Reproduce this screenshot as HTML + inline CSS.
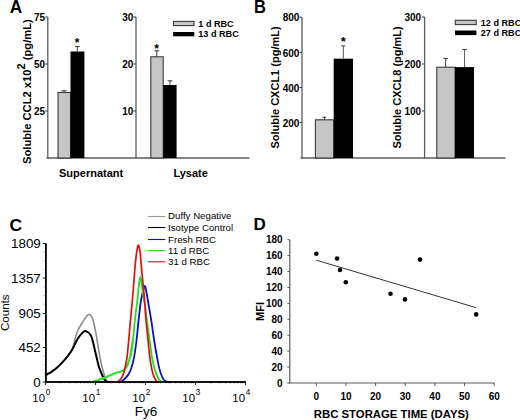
<!DOCTYPE html>
<html><head><meta charset="utf-8"><style>
html,body{margin:0;padding:0;background:#fff;}
svg{display:block;}
</style></head><body>
<svg width="520" height="420" viewBox="0 0 520 420" style="font-family:'Liberation Sans',sans-serif">
<rect width="520" height="420" fill="#fff"/>
<text transform="translate(9.8,12.6) scale(1,1.06)" font-family="Liberation Sans, sans-serif" font-weight="bold" font-size="17.2">A</text>
<line x1="47.8" y1="17" x2="47.8" y2="158.5" stroke="#5c5c5c" stroke-width="1.3"/>
<line x1="45.3" y1="17" x2="47.8" y2="17" stroke="#444" stroke-width="1.1"/>
<text x="45.2" y="21.2" font-family="Liberation Sans, sans-serif" font-weight="bold" font-size="10" text-anchor="end" fill="#000" >75</text>
<line x1="45.3" y1="64" x2="47.8" y2="64" stroke="#444" stroke-width="1.1"/>
<text x="45.2" y="68.2" font-family="Liberation Sans, sans-serif" font-weight="bold" font-size="10" text-anchor="end" fill="#000" >50</text>
<line x1="45.3" y1="111" x2="47.8" y2="111" stroke="#444" stroke-width="1.1"/>
<text x="45.2" y="115.2" font-family="Liberation Sans, sans-serif" font-weight="bold" font-size="10" text-anchor="end" fill="#000" >25</text>
<line x1="46.5" y1="158" x2="249.5" y2="158" stroke="#5c5c5c" stroke-width="1.4"/>
<rect x="58" y="92.5" width="12.5" height="65.5" fill="#c6c6c6" stroke="#3a3a3a" stroke-width="1.1"/>
<rect x="70.5" y="51.5" width="13.900000000000006" height="106.5" fill="#000"/>
<line x1="64" y1="92.5" x2="64" y2="90.8" stroke="#3a3a3a" stroke-width="0.9"/>
<line x1="61.5" y1="90.8" x2="66.7" y2="90.8" stroke="#3a3a3a" stroke-width="1"/>
<line x1="77.3" y1="51.5" x2="77.3" y2="46.5" stroke="#444" stroke-width="1"/>
<line x1="75" y1="46.5" x2="79.6" y2="46.5" stroke="#444" stroke-width="1.1"/>
<text x="77.2" y="47.0" font-family="Liberation Sans, sans-serif" font-weight="bold" font-size="12" text-anchor="middle" fill="#000" >*</text>
<text x="59" y="176.5" font-family="Liberation Sans, sans-serif" font-weight="bold" font-size="11" text-anchor="start" fill="#000" >Supernatant</text>
<text transform="translate(30.5,164.0) rotate(-90)" font-family="Liberation Sans, sans-serif" font-weight="bold" font-size="11.2">Soluble CCL2 x10<tspan font-size="11" dy="-5.6">2</tspan><tspan dy="5.6"> (pg/mL)</tspan></text>
<line x1="136" y1="17" x2="136" y2="158.5" stroke="#5c5c5c" stroke-width="1.3"/>
<line x1="133.5" y1="17" x2="136" y2="17" stroke="#444" stroke-width="1.1"/>
<text x="133.4" y="21.2" font-family="Liberation Sans, sans-serif" font-weight="bold" font-size="10" text-anchor="end" fill="#000" >30</text>
<line x1="133.5" y1="64" x2="136" y2="64" stroke="#444" stroke-width="1.1"/>
<text x="133.4" y="68.2" font-family="Liberation Sans, sans-serif" font-weight="bold" font-size="10" text-anchor="end" fill="#000" >20</text>
<line x1="133.5" y1="111" x2="136" y2="111" stroke="#444" stroke-width="1.1"/>
<text x="133.4" y="115.2" font-family="Liberation Sans, sans-serif" font-weight="bold" font-size="10" text-anchor="end" fill="#000" >10</text>
<rect x="150.8" y="56.8" width="12.399999999999977" height="101.2" fill="#c6c6c6" stroke="#3a3a3a" stroke-width="1.1"/>
<rect x="163.2" y="85" width="13.400000000000006" height="73" fill="#000"/>
<line x1="156.8" y1="56.8" x2="156.8" y2="50.8" stroke="#3a3a3a" stroke-width="1"/>
<line x1="154.6" y1="50.8" x2="159" y2="50.8" stroke="#3a3a3a" stroke-width="1.1"/>
<line x1="170" y1="85" x2="170" y2="80.8" stroke="#444" stroke-width="1"/>
<line x1="167.7" y1="80.8" x2="172.3" y2="80.8" stroke="#444" stroke-width="1.1"/>
<text x="156.7" y="52.8" font-family="Liberation Sans, sans-serif" font-weight="bold" font-size="12" text-anchor="middle" fill="#000" >*</text>
<text x="173.4" y="177" font-family="Liberation Sans, sans-serif" font-weight="bold" font-size="11" text-anchor="start" fill="#000" >Lysate</text>
<rect x="173.5" y="21.4" width="20.5" height="4.200000000000003" fill="#c6c6c6" stroke="#3a3a3a" stroke-width="1.1"/>
<rect x="173.1" y="32" width="21.200000000000017" height="4.299999999999997" fill="#000"/>
<text x="198.3" y="27.2" font-family="Liberation Sans, sans-serif" font-weight="bold" font-size="9.1" text-anchor="start" fill="#000" >1 d RBC</text>
<text x="198.3" y="37.3" font-family="Liberation Sans, sans-serif" font-weight="bold" font-size="9.1" text-anchor="start" fill="#000" >13 d RBC</text>
<text transform="translate(254.1,12.6) scale(0.96,1.05)" font-family="Liberation Sans, sans-serif" font-weight="bold" font-size="17.2">B</text>
<line x1="302" y1="17.2" x2="302" y2="158.5" stroke="#5c5c5c" stroke-width="1.3"/>
<line x1="299.5" y1="17.2" x2="302" y2="17.2" stroke="#444" stroke-width="1.1"/>
<text x="299.4" y="21.4" font-family="Liberation Sans, sans-serif" font-weight="bold" font-size="10" text-anchor="end" fill="#000" >800</text>
<line x1="299.5" y1="52.4" x2="302" y2="52.4" stroke="#444" stroke-width="1.1"/>
<text x="299.4" y="56.6" font-family="Liberation Sans, sans-serif" font-weight="bold" font-size="10" text-anchor="end" fill="#000" >600</text>
<line x1="299.5" y1="87.5" x2="302" y2="87.5" stroke="#444" stroke-width="1.1"/>
<text x="299.4" y="91.7" font-family="Liberation Sans, sans-serif" font-weight="bold" font-size="10" text-anchor="end" fill="#000" >400</text>
<line x1="299.5" y1="122.5" x2="302" y2="122.5" stroke="#444" stroke-width="1.1"/>
<text x="299.4" y="126.7" font-family="Liberation Sans, sans-serif" font-weight="bold" font-size="10" text-anchor="end" fill="#000" >200</text>
<line x1="300.5" y1="158" x2="505.6" y2="158" stroke="#5c5c5c" stroke-width="1.4"/>
<rect x="315.4" y="119.8" width="18.30000000000001" height="38.2" fill="#c6c6c6" stroke="#3a3a3a" stroke-width="1.1"/>
<rect x="333.7" y="58.7" width="19.30000000000001" height="99.3" fill="#000"/>
<line x1="324.4" y1="119.8" x2="324.4" y2="117.2" stroke="#3a3a3a" stroke-width="1"/>
<line x1="322.5" y1="117.2" x2="326.3" y2="117.2" stroke="#3a3a3a" stroke-width="1.1"/>
<line x1="343.3" y1="58.7" x2="343.3" y2="45.9" stroke="#555" stroke-width="1"/>
<line x1="341.3" y1="45.9" x2="345.3" y2="45.9" stroke="#444" stroke-width="1.1"/>
<text x="343.4" y="46.3" font-family="Liberation Sans, sans-serif" font-weight="bold" font-size="13" text-anchor="middle" fill="#000" >*</text>
<text transform="translate(279.2,148.6) rotate(-90)" font-family="Liberation Sans, sans-serif" font-weight="bold" font-size="11">Soluble CXCL1 (pg/mL)</text>
<line x1="424.6" y1="17" x2="424.6" y2="158.5" stroke="#5c5c5c" stroke-width="1.3"/>
<line x1="422.1" y1="17" x2="424.6" y2="17" stroke="#444" stroke-width="1.1"/>
<text x="421.2" y="21.2" font-family="Liberation Sans, sans-serif" font-weight="bold" font-size="10" text-anchor="end" fill="#000" >300</text>
<line x1="422.1" y1="64" x2="424.6" y2="64" stroke="#444" stroke-width="1.1"/>
<text x="421.2" y="68.2" font-family="Liberation Sans, sans-serif" font-weight="bold" font-size="10" text-anchor="end" fill="#000" >200</text>
<line x1="422.1" y1="111" x2="424.6" y2="111" stroke="#444" stroke-width="1.1"/>
<text x="421.2" y="115.2" font-family="Liberation Sans, sans-serif" font-weight="bold" font-size="10" text-anchor="end" fill="#000" >100</text>
<rect x="436.8" y="67.2" width="18.19999999999999" height="90.8" fill="#c6c6c6" stroke="#3a3a3a" stroke-width="1.1"/>
<rect x="455" y="67.1" width="19" height="90.9" fill="#000"/>
<line x1="445.7" y1="67.2" x2="445.7" y2="58.5" stroke="#3a3a3a" stroke-width="1"/>
<line x1="443.5" y1="58.5" x2="447.8" y2="58.5" stroke="#3a3a3a" stroke-width="1.1"/>
<line x1="464.6" y1="67.1" x2="464.6" y2="49.5" stroke="#555" stroke-width="1"/>
<line x1="462.1" y1="49.5" x2="466.9" y2="49.5" stroke="#444" stroke-width="1.1"/>
<text transform="translate(400.6,148.5) rotate(-90)" font-family="Liberation Sans, sans-serif" font-weight="bold" font-size="11">Soluble CXCL8 (pg/mL)</text>
<rect x="455.3" y="20.3" width="20.899999999999977" height="4.300000000000001" fill="#c6c6c6" stroke="#3a3a3a" stroke-width="1.1"/>
<rect x="455" y="30.5" width="21.399999999999977" height="4.600000000000001" fill="#000"/>
<text x="480.8" y="26.2" font-family="Liberation Sans, sans-serif" font-weight="bold" font-size="9.1" text-anchor="start" fill="#000" >12 d RBC</text>
<text x="480.8" y="36.2" font-family="Liberation Sans, sans-serif" font-weight="bold" font-size="9.1" text-anchor="start" fill="#000" >27 d RBC</text>
<text x="9.4" y="230.6" font-family="Liberation Sans, sans-serif" font-weight="bold" font-size="17.4" text-anchor="start" fill="#000" >C</text>
<line x1="45.8" y1="243.5" x2="45.8" y2="382.8" stroke="#000" stroke-width="1.5"/>
<line x1="45" y1="382" x2="245.8" y2="382" stroke="#000" stroke-width="1.5"/>
<line x1="42.8" y1="243.5" x2="45.8" y2="243.5" stroke="#000" stroke-width="0.9"/>
<text x="40.8" y="248.4" font-family="Liberation Sans, sans-serif" font-size="13.4" text-anchor="end" fill="#000" >1809</text>
<line x1="42.8" y1="278" x2="45.8" y2="278" stroke="#000" stroke-width="0.9"/>
<text x="40.8" y="282.9" font-family="Liberation Sans, sans-serif" font-size="13.4" text-anchor="end" fill="#000" >1357</text>
<line x1="42.8" y1="313.5" x2="45.8" y2="313.5" stroke="#000" stroke-width="0.9"/>
<text x="40.8" y="318.4" font-family="Liberation Sans, sans-serif" font-size="13.4" text-anchor="end" fill="#000" >905</text>
<line x1="42.8" y1="347.5" x2="45.8" y2="347.5" stroke="#000" stroke-width="0.9"/>
<text x="40.8" y="352.4" font-family="Liberation Sans, sans-serif" font-size="13.4" text-anchor="end" fill="#000" >452</text>
<line x1="42.8" y1="382" x2="45.8" y2="382" stroke="#000" stroke-width="0.9"/>
<text x="40.8" y="386.9" font-family="Liberation Sans, sans-serif" font-size="13.4" text-anchor="end" fill="#000" >0</text>
<line x1="43.6" y1="373.34375" x2="45.8" y2="373.34375" stroke="#b0b0b0" stroke-width="0.8"/>
<line x1="43.6" y1="364.6875" x2="45.8" y2="364.6875" stroke="#b0b0b0" stroke-width="0.8"/>
<line x1="43.6" y1="356.03125" x2="45.8" y2="356.03125" stroke="#b0b0b0" stroke-width="0.8"/>
<line x1="43.6" y1="338.71875" x2="45.8" y2="338.71875" stroke="#b0b0b0" stroke-width="0.8"/>
<line x1="43.6" y1="330.0625" x2="45.8" y2="330.0625" stroke="#b0b0b0" stroke-width="0.8"/>
<line x1="43.6" y1="321.40625" x2="45.8" y2="321.40625" stroke="#b0b0b0" stroke-width="0.8"/>
<line x1="43.6" y1="304.09375" x2="45.8" y2="304.09375" stroke="#b0b0b0" stroke-width="0.8"/>
<line x1="43.6" y1="295.4375" x2="45.8" y2="295.4375" stroke="#b0b0b0" stroke-width="0.8"/>
<line x1="43.6" y1="286.78125" x2="45.8" y2="286.78125" stroke="#b0b0b0" stroke-width="0.8"/>
<line x1="43.6" y1="269.46875" x2="45.8" y2="269.46875" stroke="#b0b0b0" stroke-width="0.8"/>
<line x1="43.6" y1="260.8125" x2="45.8" y2="260.8125" stroke="#b0b0b0" stroke-width="0.8"/>
<line x1="43.6" y1="252.15625" x2="45.8" y2="252.15625" stroke="#b0b0b0" stroke-width="0.8"/>
<line x1="45.6" y1="382" x2="45.6" y2="385" stroke="#000" stroke-width="0.9"/>
<text x="45.0" y="401.6" font-family="Liberation Sans, sans-serif" font-size="11.4" text-anchor="end" fill="#000" >10</text>
<text x="45.800000000000004" y="395" font-family="Liberation Sans, sans-serif" font-size="8.2" text-anchor="start" fill="#000" >0</text>
<line x1="60.65149978319906" y1="382" x2="60.65149978319906" y2="384" stroke="#888" stroke-width="0.5"/>
<line x1="69.45606273598312" y1="382" x2="69.45606273598312" y2="384" stroke="#888" stroke-width="0.5"/>
<line x1="75.70299956639812" y1="382" x2="75.70299956639812" y2="384" stroke="#888" stroke-width="0.5"/>
<line x1="80.54850021680095" y1="382" x2="80.54850021680095" y2="384" stroke="#888" stroke-width="0.5"/>
<line x1="84.50756251918219" y1="382" x2="84.50756251918219" y2="384" stroke="#888" stroke-width="0.5"/>
<line x1="87.85490200071284" y1="382" x2="87.85490200071284" y2="384" stroke="#888" stroke-width="0.5"/>
<line x1="90.75449934959718" y1="382" x2="90.75449934959718" y2="384" stroke="#888" stroke-width="0.5"/>
<line x1="93.31212547196625" y1="382" x2="93.31212547196625" y2="384" stroke="#888" stroke-width="0.5"/>
<line x1="95.6" y1="382" x2="95.6" y2="385" stroke="#000" stroke-width="0.9"/>
<text x="95.0" y="401.6" font-family="Liberation Sans, sans-serif" font-size="11.4" text-anchor="end" fill="#000" >10</text>
<text x="95.8" y="395" font-family="Liberation Sans, sans-serif" font-size="8.2" text-anchor="start" fill="#000" >1</text>
<line x1="110.65149978319906" y1="382" x2="110.65149978319906" y2="384" stroke="#888" stroke-width="0.5"/>
<line x1="119.45606273598312" y1="382" x2="119.45606273598312" y2="384" stroke="#888" stroke-width="0.5"/>
<line x1="125.70299956639812" y1="382" x2="125.70299956639812" y2="384" stroke="#888" stroke-width="0.5"/>
<line x1="130.54850021680093" y1="382" x2="130.54850021680093" y2="384" stroke="#888" stroke-width="0.5"/>
<line x1="134.5075625191822" y1="382" x2="134.5075625191822" y2="384" stroke="#888" stroke-width="0.5"/>
<line x1="137.85490200071285" y1="382" x2="137.85490200071285" y2="384" stroke="#888" stroke-width="0.5"/>
<line x1="140.75449934959718" y1="382" x2="140.75449934959718" y2="384" stroke="#888" stroke-width="0.5"/>
<line x1="143.31212547196623" y1="382" x2="143.31212547196623" y2="384" stroke="#888" stroke-width="0.5"/>
<line x1="145.6" y1="382" x2="145.6" y2="385" stroke="#000" stroke-width="0.9"/>
<text x="145.0" y="401.6" font-family="Liberation Sans, sans-serif" font-size="11.4" text-anchor="end" fill="#000" >10</text>
<text x="145.79999999999998" y="395" font-family="Liberation Sans, sans-serif" font-size="8.2" text-anchor="start" fill="#000" >2</text>
<line x1="160.65149978319906" y1="382" x2="160.65149978319906" y2="384" stroke="#888" stroke-width="0.5"/>
<line x1="169.45606273598312" y1="382" x2="169.45606273598312" y2="384" stroke="#888" stroke-width="0.5"/>
<line x1="175.70299956639812" y1="382" x2="175.70299956639812" y2="384" stroke="#888" stroke-width="0.5"/>
<line x1="180.54850021680093" y1="382" x2="180.54850021680093" y2="384" stroke="#888" stroke-width="0.5"/>
<line x1="184.5075625191822" y1="382" x2="184.5075625191822" y2="384" stroke="#888" stroke-width="0.5"/>
<line x1="187.85490200071283" y1="382" x2="187.85490200071283" y2="384" stroke="#888" stroke-width="0.5"/>
<line x1="190.75449934959718" y1="382" x2="190.75449934959718" y2="384" stroke="#888" stroke-width="0.5"/>
<line x1="193.31212547196623" y1="382" x2="193.31212547196623" y2="384" stroke="#888" stroke-width="0.5"/>
<line x1="195.6" y1="382" x2="195.6" y2="385" stroke="#000" stroke-width="0.9"/>
<text x="195.0" y="401.6" font-family="Liberation Sans, sans-serif" font-size="11.4" text-anchor="end" fill="#000" >10</text>
<text x="195.79999999999998" y="395" font-family="Liberation Sans, sans-serif" font-size="8.2" text-anchor="start" fill="#000" >3</text>
<line x1="210.65149978319906" y1="382" x2="210.65149978319906" y2="384" stroke="#888" stroke-width="0.5"/>
<line x1="219.45606273598312" y1="382" x2="219.45606273598312" y2="384" stroke="#888" stroke-width="0.5"/>
<line x1="225.70299956639812" y1="382" x2="225.70299956639812" y2="384" stroke="#888" stroke-width="0.5"/>
<line x1="230.54850021680093" y1="382" x2="230.54850021680093" y2="384" stroke="#888" stroke-width="0.5"/>
<line x1="234.5075625191822" y1="382" x2="234.5075625191822" y2="384" stroke="#888" stroke-width="0.5"/>
<line x1="237.85490200071283" y1="382" x2="237.85490200071283" y2="384" stroke="#888" stroke-width="0.5"/>
<line x1="240.75449934959718" y1="382" x2="240.75449934959718" y2="384" stroke="#888" stroke-width="0.5"/>
<line x1="243.31212547196623" y1="382" x2="243.31212547196623" y2="384" stroke="#888" stroke-width="0.5"/>
<line x1="245.6" y1="382" x2="245.6" y2="385" stroke="#000" stroke-width="0.9"/>
<text x="245.0" y="401.6" font-family="Liberation Sans, sans-serif" font-size="11.4" text-anchor="end" fill="#000" >10</text>
<text x="245.79999999999998" y="395" font-family="Liberation Sans, sans-serif" font-size="8.2" text-anchor="start" fill="#000" >4</text>
<text transform="translate(134.8,415.8) scale(1.1,1)" font-family="Liberation Sans, sans-serif" font-size="12.3">Fy6</text>
<text transform="translate(9.3,331.1) rotate(-90)" font-family="Liberation Sans, sans-serif" font-size="11.6">Counts</text>
<path d="M70.50,352.40 C70.92,351.53 72.15,349.77 73.00,347.20 C73.85,344.63 74.75,339.87 75.60,337.00 C76.45,334.13 76.88,332.55 78.10,330.00 C79.32,327.45 81.42,324.08 82.90,321.70 C84.38,319.32 85.92,316.93 87.00,315.70 C88.08,314.47 88.53,313.98 89.40,314.30 C90.27,314.62 91.43,315.98 92.20,317.60 C92.97,319.22 93.37,321.33 94.00,324.00 C94.63,326.67 95.35,330.10 96.00,333.60 C96.65,337.10 97.27,341.20 97.90,345.00 C98.53,348.80 99.20,353.07 99.80,356.40 C100.40,359.73 100.87,362.32 101.50,365.00 C102.13,367.68 102.93,370.25 103.60,372.50 C104.27,374.75 104.83,377.00 105.50,378.50 C106.17,380.00 106.68,380.92 107.60,381.50 C108.52,382.08 110.43,381.92 111.00,382.00" fill="none" stroke="#8c8c8c" stroke-width="1.6" stroke-linejoin="round" stroke-linecap="round" />
<path d="M45.80,375.00 C46.68,374.52 49.25,373.30 51.10,372.10 C52.95,370.90 54.98,369.47 56.90,367.80 C58.82,366.13 60.93,363.88 62.60,362.10 C64.27,360.32 65.48,358.88 66.90,357.10 C68.32,355.32 69.88,353.30 71.10,351.40 C72.32,349.50 73.23,347.57 74.20,345.70 C75.17,343.83 75.85,342.02 76.90,340.20 C77.95,338.38 79.22,336.30 80.50,334.80 C81.78,333.30 83.52,331.70 84.60,331.20 C85.68,330.70 86.20,331.45 87.00,331.80 C87.80,332.15 88.65,332.45 89.40,333.30 C90.15,334.15 90.85,335.25 91.50,336.90 C92.15,338.55 92.72,340.90 93.30,343.20 C93.88,345.50 94.40,348.15 95.00,350.70 C95.60,353.25 96.27,355.87 96.90,358.50 C97.53,361.13 98.13,364.25 98.80,366.50 C99.47,368.75 100.07,370.00 100.90,372.00 C101.73,374.00 102.87,376.92 103.80,378.50 C104.73,380.08 105.47,380.92 106.50,381.50 C107.53,382.08 109.42,381.92 110.00,382.00" fill="none" stroke="#000" stroke-width="2.0" stroke-linejoin="round" stroke-linecap="round" />
<path d="M119.00,382.00 C119.50,381.83 120.70,381.90 122.00,381.00 C123.30,380.10 125.35,378.43 126.80,376.60 C128.25,374.77 129.52,373.07 130.70,370.00 C131.88,366.93 132.93,363.12 133.90,358.20 C134.87,353.28 135.72,346.83 136.50,340.50 C137.28,334.17 137.92,326.45 138.60,320.20 C139.28,313.95 139.95,307.48 140.60,303.00 C141.25,298.52 141.82,296.17 142.50,293.30 C143.18,290.43 144.03,285.93 144.70,285.80 C145.37,285.67 145.95,289.97 146.50,292.50 C147.05,295.03 147.22,296.38 148.00,301.00 C148.78,305.62 150.17,313.62 151.20,320.20 C152.23,326.78 153.18,334.08 154.20,340.50 C155.22,346.92 156.33,353.63 157.30,358.70 C158.27,363.77 158.88,367.35 160.00,370.90 C161.12,374.45 162.50,378.15 164.00,380.00 C165.50,381.85 168.17,381.67 169.00,382.00" fill="none" stroke="#1010c0" stroke-width="1.8" stroke-linejoin="round" stroke-linecap="round" />
<path d="M92.00,382.00 C92.53,381.83 93.37,381.60 95.20,381.00 C97.03,380.40 100.70,379.27 103.00,378.40 C105.30,377.53 106.98,376.67 109.00,375.80 C111.02,374.93 113.08,373.93 115.10,373.20 C117.12,372.47 119.52,372.05 121.10,371.40 C122.68,370.75 123.48,370.45 124.60,369.30 C125.72,368.15 126.80,366.88 127.80,364.50 C128.80,362.12 129.75,359.00 130.60,355.00 C131.45,351.00 132.52,342.92 132.90,340.50" fill="none" stroke="#30e030" stroke-width="2.2" stroke-linejoin="round" stroke-linecap="round" />
<path d="M130.60,355.00 C130.98,352.58 132.18,346.33 132.90,340.50 C133.62,334.67 134.25,325.92 134.90,320.00 C135.55,314.08 136.30,309.17 136.80,305.00 C137.30,300.83 137.55,298.33 137.90,295.00 C138.25,291.67 138.50,288.00 138.90,285.00 C139.30,282.00 139.80,277.00 140.30,277.00 C140.80,277.00 141.35,281.45 141.90,285.00 C142.45,288.55 143.08,294.97 143.60,298.30 C144.12,301.63 144.45,301.35 145.00,305.00 C145.55,308.65 146.13,314.28 146.90,320.20 C147.67,326.12 148.72,334.08 149.60,340.50 C150.48,346.92 151.27,353.63 152.20,358.70 C153.13,363.77 154.00,367.35 155.20,370.90 C156.40,374.45 157.93,378.15 159.40,380.00 C160.87,381.85 163.23,381.67 164.00,382.00" fill="none" stroke="#20e020" stroke-width="1.8" stroke-linejoin="round" stroke-linecap="round" />
<path d="M112.00,382.00 C113.02,381.92 116.42,382.35 118.10,381.50 C119.78,380.65 120.97,379.02 122.10,376.90 C123.23,374.78 124.07,372.17 124.90,368.80 C125.73,365.43 126.47,361.42 127.10,356.70 C127.73,351.98 128.13,346.58 128.70,340.50 C129.27,334.42 129.88,326.95 130.50,320.20 C131.12,313.45 131.83,306.42 132.40,300.00 C132.97,293.58 133.43,287.53 133.90,281.70 C134.37,275.87 134.77,269.70 135.20,265.00 C135.63,260.30 136.12,256.42 136.50,253.50 C136.88,250.58 137.22,248.92 137.50,247.50 C137.78,246.08 137.93,245.08 138.20,245.00 C138.47,244.92 138.77,245.67 139.10,247.00 C139.43,248.33 139.85,250.00 140.20,253.00 C140.55,256.00 140.77,260.22 141.20,265.00 C141.63,269.78 142.27,276.20 142.80,281.70 C143.33,287.20 143.87,291.58 144.40,298.00 C144.93,304.42 145.38,313.12 146.00,320.20 C146.62,327.28 147.43,334.08 148.10,340.50 C148.77,346.92 149.23,353.30 150.00,358.70 C150.77,364.10 151.62,369.18 152.70,372.90 C153.78,376.62 155.12,379.48 156.50,381.00 C157.88,382.52 160.25,381.83 161.00,382.00" fill="none" stroke="#e01010" stroke-width="1.7" stroke-linejoin="round" stroke-linecap="round" />
<line x1="45.8" y1="243.5" x2="45.8" y2="382.8" stroke="#000" stroke-width="1.5"/>
<line x1="45" y1="382" x2="245.8" y2="382" stroke="#000" stroke-width="1.5"/>
<line x1="148" y1="216.5" x2="165.3" y2="216.5" stroke="#9a9a9a" stroke-width="1.1"/>
<text x="168" y="219.4" font-family="Liberation Sans, sans-serif" font-size="9.7" text-anchor="start" fill="#000" >Duffy Negative</text>
<line x1="148" y1="227.5" x2="165.3" y2="227.5" stroke="#000" stroke-width="1.1"/>
<text x="168" y="231.4" font-family="Liberation Sans, sans-serif" font-size="9.7" text-anchor="start" fill="#000" >Isotype Control</text>
<line x1="148" y1="239.5" x2="165.3" y2="239.5" stroke="#1010c0" stroke-width="1.1"/>
<text x="168" y="242.9" font-family="Liberation Sans, sans-serif" font-size="9.7" text-anchor="start" fill="#000" >Fresh RBC</text>
<line x1="148" y1="250.6" x2="165.3" y2="250.6" stroke="#20e020" stroke-width="1.1"/>
<text x="168" y="254.0" font-family="Liberation Sans, sans-serif" font-size="9.7" text-anchor="start" fill="#000" >11 d RBC</text>
<line x1="148" y1="261.8" x2="165.3" y2="261.8" stroke="#e01010" stroke-width="1.1"/>
<text x="168" y="264.90000000000003" font-family="Liberation Sans, sans-serif" font-size="9.7" text-anchor="start" fill="#000" >31 d RBC</text>
<text x="253.4" y="230.1" font-family="Liberation Sans, sans-serif" font-weight="bold" font-size="17" text-anchor="start" fill="#000" >D</text>
<line x1="289.8" y1="239.7" x2="289.8" y2="383.5" stroke="#5a5a5a" stroke-width="1.2"/>
<line x1="289.2" y1="383" x2="494.5" y2="383" stroke="#5a5a5a" stroke-width="1.2"/>
<line x1="287.3" y1="383.0" x2="289.8" y2="383.0" stroke="#5a5a5a" stroke-width="1"/>
<text x="282.6" y="386.5" font-family="Liberation Sans, sans-serif" font-weight="bold" font-size="10" text-anchor="end" fill="#000" >0</text>
<line x1="287.3" y1="367.0777777777778" x2="289.8" y2="367.0777777777778" stroke="#5a5a5a" stroke-width="1"/>
<text x="282.6" y="370.5777777777778" font-family="Liberation Sans, sans-serif" font-weight="bold" font-size="10" text-anchor="end" fill="#000" >20</text>
<line x1="287.3" y1="351.15555555555557" x2="289.8" y2="351.15555555555557" stroke="#5a5a5a" stroke-width="1"/>
<text x="282.6" y="354.65555555555557" font-family="Liberation Sans, sans-serif" font-weight="bold" font-size="10" text-anchor="end" fill="#000" >40</text>
<line x1="287.3" y1="335.23333333333335" x2="289.8" y2="335.23333333333335" stroke="#5a5a5a" stroke-width="1"/>
<text x="282.6" y="338.73333333333335" font-family="Liberation Sans, sans-serif" font-weight="bold" font-size="10" text-anchor="end" fill="#000" >60</text>
<line x1="287.3" y1="319.31111111111113" x2="289.8" y2="319.31111111111113" stroke="#5a5a5a" stroke-width="1"/>
<text x="282.6" y="322.81111111111113" font-family="Liberation Sans, sans-serif" font-weight="bold" font-size="10" text-anchor="end" fill="#000" >80</text>
<line x1="287.3" y1="303.3888888888889" x2="289.8" y2="303.3888888888889" stroke="#5a5a5a" stroke-width="1"/>
<text x="282.6" y="306.8888888888889" font-family="Liberation Sans, sans-serif" font-weight="bold" font-size="10" text-anchor="end" fill="#000" >100</text>
<line x1="287.3" y1="287.46666666666664" x2="289.8" y2="287.46666666666664" stroke="#5a5a5a" stroke-width="1"/>
<text x="282.6" y="290.96666666666664" font-family="Liberation Sans, sans-serif" font-weight="bold" font-size="10" text-anchor="end" fill="#000" >120</text>
<line x1="287.3" y1="271.5444444444444" x2="289.8" y2="271.5444444444444" stroke="#5a5a5a" stroke-width="1"/>
<text x="282.6" y="275.0444444444444" font-family="Liberation Sans, sans-serif" font-weight="bold" font-size="10" text-anchor="end" fill="#000" >140</text>
<line x1="287.3" y1="255.6222222222222" x2="289.8" y2="255.6222222222222" stroke="#5a5a5a" stroke-width="1"/>
<text x="282.6" y="259.1222222222222" font-family="Liberation Sans, sans-serif" font-weight="bold" font-size="10" text-anchor="end" fill="#000" >160</text>
<line x1="287.3" y1="239.7" x2="289.8" y2="239.7" stroke="#5a5a5a" stroke-width="1"/>
<text x="282.6" y="243.2" font-family="Liberation Sans, sans-serif" font-weight="bold" font-size="10" text-anchor="end" fill="#000" >180</text>
<line x1="316.3" y1="383" x2="316.3" y2="386" stroke="#5a5a5a" stroke-width="1"/>
<text x="316.3" y="400.3" font-family="Liberation Sans, sans-serif" font-weight="bold" font-size="10" text-anchor="middle" fill="#000" >0</text>
<line x1="345.95" y1="383" x2="345.95" y2="386" stroke="#5a5a5a" stroke-width="1"/>
<text x="345.95" y="400.3" font-family="Liberation Sans, sans-serif" font-weight="bold" font-size="10" text-anchor="middle" fill="#000" >10</text>
<line x1="375.6" y1="383" x2="375.6" y2="386" stroke="#5a5a5a" stroke-width="1"/>
<text x="375.6" y="400.3" font-family="Liberation Sans, sans-serif" font-weight="bold" font-size="10" text-anchor="middle" fill="#000" >20</text>
<line x1="405.25" y1="383" x2="405.25" y2="386" stroke="#5a5a5a" stroke-width="1"/>
<text x="405.25" y="400.3" font-family="Liberation Sans, sans-serif" font-weight="bold" font-size="10" text-anchor="middle" fill="#000" >30</text>
<line x1="434.9" y1="383" x2="434.9" y2="386" stroke="#5a5a5a" stroke-width="1"/>
<text x="434.9" y="400.3" font-family="Liberation Sans, sans-serif" font-weight="bold" font-size="10" text-anchor="middle" fill="#000" >40</text>
<line x1="464.55" y1="383" x2="464.55" y2="386" stroke="#5a5a5a" stroke-width="1"/>
<text x="464.55" y="400.3" font-family="Liberation Sans, sans-serif" font-weight="bold" font-size="10" text-anchor="middle" fill="#000" >50</text>
<line x1="494.2" y1="383" x2="494.2" y2="386" stroke="#5a5a5a" stroke-width="1"/>
<text x="494.2" y="400.3" font-family="Liberation Sans, sans-serif" font-weight="bold" font-size="10" text-anchor="middle" fill="#000" >60</text>
<text x="313.8" y="418" font-family="Liberation Sans, sans-serif" font-weight="bold" font-size="11.35" text-anchor="start" fill="#000" >RBC STORAGE TIME (DAYS)</text>
<text transform="translate(263.6,321) rotate(-90)" font-family="Liberation Sans, sans-serif" font-weight="bold" font-size="11">MFI</text>
<line x1="316.3" y1="260.2" x2="476.2" y2="307.7" stroke="#333" stroke-width="1"/>
<circle cx="316.3" cy="253.7" r="2.3" fill="#000"/>
<circle cx="337.1" cy="258.5" r="2.3" fill="#000"/>
<circle cx="340" cy="270" r="2.3" fill="#000"/>
<circle cx="345.8" cy="282.3" r="2.3" fill="#000"/>
<circle cx="390.5" cy="293.8" r="2.3" fill="#000"/>
<circle cx="405" cy="299.4" r="2.3" fill="#000"/>
<circle cx="420" cy="259.6" r="2.3" fill="#000"/>
<circle cx="476.2" cy="314.4" r="2.3" fill="#000"/>
</svg>
</body></html>
